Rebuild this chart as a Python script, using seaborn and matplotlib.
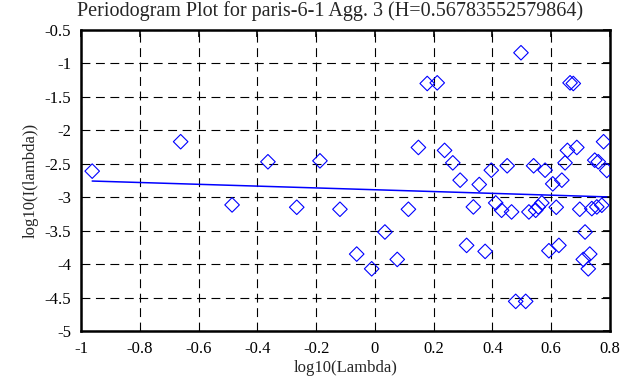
import matplotlib

matplotlib.use("Agg")

import matplotlib.pyplot as plt
import pandas as pd
import seaborn as sns


TITLE = "Periodogram Plot for paris-6-1 Agg. 3 (H=0.56783552579864)"

# log10(Lambda) values
log_lambda = [
    -0.962, -0.661, -0.486, -0.364, -0.266, -0.187, -0.119, -0.062, -0.011, 0.034,
    0.076, 0.114, 0.148, 0.178, 0.212, 0.237, 0.265, 0.290, 0.312, 0.335,
    0.355, 0.375, 0.396, 0.411, 0.431, 0.450, 0.465, 0.479, 0.497, 0.513,
    0.524, 0.540, 0.547, 0.556, 0.568, 0.579, 0.592, 0.605, 0.617, 0.626,
    0.636, 0.647, 0.655, 0.664, 0.675, 0.687, 0.697, 0.709, 0.715, 0.726,
    0.731, 0.738, 0.748, 0.755, 0.760, 0.772, 0.778, 0.789,
]
# log10(I(lambda)) values
log_intensity = [
    -2.61, -2.17, -3.115, -2.47, -3.15, -2.456, -3.18, -3.85, -4.07, -3.52,
    -3.93, -3.18, -2.256, -1.30, -1.29, -2.30, -2.486, -2.745, -3.72, -3.145,
    -2.81, -3.81, -2.596, -3.085, -3.195, -2.53, -3.22, -4.557, -0.84, -4.557,
    -3.22, -2.53, -3.195, -3.145, -3.085, -2.596, -3.80, -2.80, -3.15, -3.72,
    -2.745, -2.486, -2.30, -1.29, -1.30, -2.256, -3.18, -3.93, -3.52, -4.07,
    -3.85, -3.17, -2.446, -3.145, -2.47, -3.12, -2.17, -2.60,
]

# least-squares fit line endpoints
fit_x = [-0.962, 0.789]
fit_y = [-2.758, -2.995]

x_ticks = [-1, -0.8, -0.6, -0.4, -0.2, 0, 0.2, 0.4, 0.6, 0.8]
x_tick_labels = ["-1", "-0.8", "-0.6", "-0.4", "-0.2", "0", "0.2", "0.4", "0.6", "0.8"]
y_ticks = [-5, -4.5, -4, -3.5, -3, -2.5, -2, -1.5, -1, -0.5]
y_tick_labels = ["-5", "-4.5", "-4", "-3.5", "-3", "-2.5", "-2", "-1.5", "-1", "-0.5"]


def main():
    sns.set_theme(style="white")
    plt.rcParams["font.family"] = ["Liberation Serif", "DejaVu Serif"]
    plt.rcParams["font.size"] = 12

    points = pd.DataFrame({"x": log_lambda, "y": log_intensity})
    fit = pd.DataFrame({"x": fit_x, "y": fit_y})

    fig = plt.figure(figsize=(6.42, 3.87), dpi=100)
    ax = fig.add_axes([0.1262, 0.1447, 0.8240, 0.7778])

    sns.scatterplot(
        data=points, x="x", y="y", marker="D", s=55,
        facecolor="none", edgecolor="#0000ff", linewidth=0.8, ax=ax, zorder=3,
    )
    sns.lineplot(data=fit, x="x", y="y", color="#0000ff", linewidth=1.1, ax=ax, zorder=2)

    ax.set_xlim(-1, 0.8)
    ax.set_ylim(-5, -0.5)
    ax.set_xticks(x_ticks)
    ax.set_xticklabels(x_tick_labels)
    ax.set_yticks(y_ticks)
    ax.set_yticklabels(y_tick_labels)
    ax.grid(True, color="black", linestyle=(0, (8, 5)), linewidth=0.8)
    ax.tick_params(direction="in", length=5, width=1.2, colors="black",
                   top=True, right=True, labelsize=12, pad=7)
    for spine in ax.spines.values():
        spine.set_color("black")
        spine.set_linewidth(1.8)

    ax.set_xlabel("log10(Lambda)", fontsize=12, labelpad=2)
    ax.set_ylabel("log10(I(lambda))", fontsize=12, labelpad=4)
    fig.text(0.514, 0.997, TITLE, ha="center", va="top", fontsize=14.5)

    fig.savefig("out.png", dpi=100, facecolor="white")
    plt.close(fig)


if __name__ == "__main__":
    main()
